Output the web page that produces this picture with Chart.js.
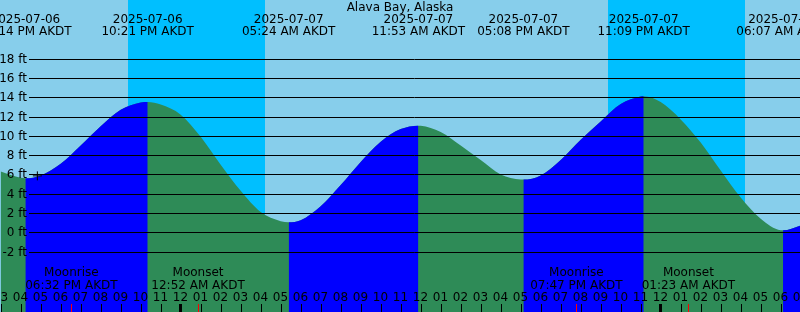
<!DOCTYPE html>
<html>
<head>
<meta charset="utf-8">
<script src="https://cdn.jsdelivr.net/npm/chart.js@4.4.1/dist/chart.umd.min.js"></script>
<style>
html, body { margin: 0; padding: 0; background: #87ceeb; overflow: hidden; }
#wrap { width: 800px; height: 312px; }
</style>
</head>
<body>
<div id="wrap"><canvas id="tide" width="800" height="312"></canvas></div>
<script>
var station = 'Alava Bay, Alaska';
var zone = 'AKDT';
var baseDay = '2025-07-07';          // hours below count from 00:00 of this day

// tide level (ft) at every whole hour, from -9 h to +31 h
var hourlyStart = -9;
var hourlyFeet = [6.3, 5.65, 5.9, 7.1, 9.0, 11.0, 12.7, 13.45, 13.25,
    12.2, 9.9, 7.0, 4.3, 2.1, 1.15, 1.25, 2.7, 4.9, 7.3, 9.4, 10.7,
    11.05, 10.4, 9.0, 7.5, 6.0, 5.47, 5.9, 7.5, 9.6, 11.5, 13.3, 14.08,
    13.5, 11.7, 9.3, 6.4, 3.6, 1.4, 0.21, 0.7];

// highs and lows
var extremeTimes = ['2025-07-06 16:14', '2025-07-06 22:21', '2025-07-07 05:24',
    '2025-07-07 11:53', '2025-07-07 17:08', '2025-07-07 23:09', '2025-07-08 06:07'];
var extremeFeet = [5.6, 13.5, 1.04, 11.06, 5.46, 14.1, 0.2];

// night = sunset .. sunrise
var sunsetTimes = ['2025-07-06 21:21', '2025-07-07 21:21'];
var sunriseTimes = ['2025-07-07 04:12', '2025-07-08 04:12'];

var moonTimes = ['2025-07-06 18:32', '2025-07-07 00:52', '2025-07-07 19:47', '2025-07-08 01:23'];
var moonEvents = ['Moonrise', 'Moonset', 'Moonrise', 'Moonset'];

var nowTime = '2025-07-06 16:50';
var nowFeet = 5.85;

var footTicks = [-2, 0, 2, 4, 6, 8, 10, 12, 14, 16, 18];

var FONT = '12px "DejaVu Sans"';
var EBB = '#2e8b57', FLOOD = '#0000ff';

function pad(n) { return (n < 10 ? '0' : '') + n; }

function hoursOf(s) {
    var p = s.split(/[- :]/).map(Number);
    var b = baseDay.split('-').map(Number);
    return (Date.UTC(p[0], p[1] - 1, p[2], p[3], p[4]) - Date.UTC(b[0], b[1] - 1, b[2])) / 3600000;
}

function clock(s) {
    var hm = s.split(' ')[1].split(':');
    var h = +hm[0];
    var h12 = h % 12 === 0 ? 12 : h % 12;
    return pad(h12) + ':' + hm[1] + ' ' + (h < 12 ? 'AM' : 'PM') + ' ' + zone;
}

/*curve points: hourly readings plus the highs and lows*/
var curve = [];
for (var i = 0; i < hourlyFeet.length; i++) {
    curve.push({x: hourlyStart + i, y: hourlyFeet[i]});
}
for (var j = 0; j < extremeTimes.length; j++) {
    curve.push({x: hoursOf(extremeTimes[j]), y: extremeFeet[j]});
}
curve.sort(function (a, b) { return a.x - b.x; });

var decor = {
    id: 'decor',
    beforeDraw: function (c) {
        var ctx = c.ctx, xs = c.scales.x;
        ctx.save();
        ctx.fillStyle = '#87ceeb';
        ctx.fillRect(0, 0, c.width, c.height);
        ctx.fillStyle = '#00bfff';
        for (var i = 0; i < sunsetTimes.length; i++) {
            var a = Math.round(xs.getPixelForValue(hoursOf(sunsetTimes[i])));
            var b = Math.round(xs.getPixelForValue(hoursOf(sunriseTimes[i])));
            ctx.fillRect(a, 0, b - a, c.height);
        }
        ctx.restore();
    },
    afterDatasetsDraw: function (c) {
        var ctx = c.ctx, xs = c.scales.x, ys = c.scales.y;
        var W = c.width, H = c.height;
        ctx.save();
        ctx.font = FONT;
        ctx.fillStyle = '#000';
        ctx.strokeStyle = '#000';
        ctx.lineWidth = 1;

        /*height lines and labels*/
        ctx.textAlign = 'right';
        ctx.textBaseline = 'middle';
        footTicks.forEach(function (f) {
            var y = Math.round(ys.getPixelForValue(f)) + 0.5;
            ctx.beginPath();
            ctx.moveTo(29, y);
            ctx.lineTo(W, y);
            ctx.stroke();
            ctx.fillText(f + ' ft', 27, y);
        });

        /*title and high / low labels*/
        ctx.textAlign = 'center';
        ctx.fillText(station, W / 2, 7.5);
        extremeTimes.forEach(function (t) {
            var x = xs.getPixelForValue(hoursOf(t));
            ctx.fillText(t.split(' ')[0], x, 19.5);
            ctx.fillText(clock(t), x, 31.5);
        });

        /*moon*/
        moonTimes.forEach(function (t, k) {
            var x = xs.getPixelForValue(hoursOf(t));
            ctx.fillText(moonEvents[k], x, 272.5);
            ctx.fillText(clock(t), x, 285.5);
        });

        /*hour ticks*/
        for (var h = Math.ceil(xs.min); h <= Math.ceil(xs.max); h++) {
            var x = Math.round(xs.getPixelForValue(h));
            var hd = ((h % 24) + 24) % 24;
            ctx.fillText(pad(hd % 12 === 0 ? 12 : hd % 12), x - 0.5, 297.5);
            if (hd === 0) ctx.fillRect(x - 2, H - 8, 3, 8);
            else ctx.fillRect(x, H - 8, 1, 8);
        }
        ctx.fillStyle = '#ff0000';
        moonTimes.forEach(function (t) {
            var x = Math.round(xs.getPixelForValue(hoursOf(t)));
            ctx.fillRect(x, H - 8, 1, 8);
        });
        ctx.restore();
    }
};

var chart = new Chart(document.getElementById('tide').getContext('2d'), {
    type: 'line',
    data: {
        datasets: [{
            // whole water body in ebb colour
            data: curve,
            fill: 'start',
            borderWidth: 0,
            borderColor: 'rgba(0,0,0,0)',
            pointRadius: 0,
            cubicInterpolationMode: 'monotone',
            backgroundColor: EBB,
            order: 3
        }, {
            // rising stretches painted over it
            data: curve,
            fill: 'start',
            borderWidth: 0,
            borderColor: 'rgba(0,0,0,0)',
            pointRadius: 0,
            cubicInterpolationMode: 'monotone',
            backgroundColor: FLOOD,
            segment: {
                backgroundColor: function (s) {
                    return s.p1.parsed.y > s.p0.parsed.y ? FLOOD : 'rgba(0,0,0,0)';
                }
            },
            order: 2
        }, {
            data: [{x: hoursOf(nowTime), y: nowFeet}],
            showLine: false,
            fill: false,
            pointStyle: 'cross',
            pointRadius: 4.5,
            pointBorderColor: '#000',
            pointBorderWidth: 1,
            borderColor: '#000',
            order: 1
        }]
    },
    options: {
        responsive: false,
        animation: false,
        devicePixelRatio: 1,
        layout: {padding: 0, autoPadding: false},
        plugins: {legend: {display: false}, tooltip: {enabled: false}},
        scales: {
            x: {type: 'linear', min: -9.035, max: 30.965, display: false},
            y: {type: 'linear', min: -8.27, max: 24.09, display: false}
        }
    },
    plugins: [decor]
});
</script>
</body>
</html>
